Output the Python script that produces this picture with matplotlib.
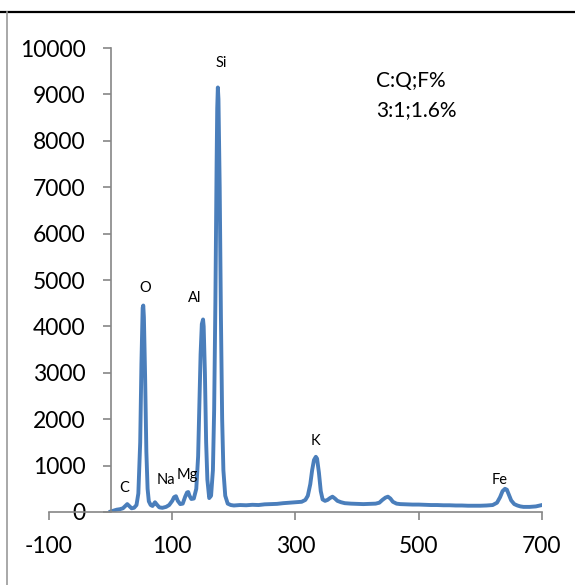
import matplotlib.pyplot as plt
from matplotlib.lines import Line2D

# spettro EDS
energy = [0, 5, 10, 15, 20, 24, 27, 30, 34, 38, 42, 45, 48, 50, 52, 53, 54, 56, 58, 60,
          62, 65, 68, 72, 75, 79, 84, 90, 95, 100, 103, 106, 109, 113, 117, 121, 124, 126, 128, 131,
          135, 139, 142, 144, 146, 148, 150, 151, 153, 155, 157, 160, 163, 166, 168, 170, 172, 173, 174, 175,
          177, 179, 181, 183, 186, 190, 195, 200, 210, 220, 230, 240, 250, 260, 270, 280, 290, 300, 310, 316,
          320, 324, 327, 330, 333, 335, 338, 341, 344, 348, 352, 356, 360, 364, 368, 374, 380, 390, 400, 410,
          420, 430, 436, 441, 446, 450, 454, 458, 464, 470, 480, 490, 500, 510, 520, 530, 540, 550, 560, 570,
          580, 590, 600, 610, 620, 627, 632, 636, 640, 643, 646, 650, 655, 660, 665, 670, 680, 690, 700]
counts = [10, 30, 50, 60, 80, 130, 170, 130, 80, 90, 150, 400, 1500, 3200, 4400, 4450, 4200, 2900, 1300, 500,
          230, 150, 130, 210, 160, 100, 90, 110, 150, 240, 320, 340, 240, 170, 180, 330, 420, 430, 350, 280,
          290, 500, 1200, 2300, 3400, 4050, 4150, 4000, 3000, 1500, 700, 300, 350, 900, 2200, 4500, 7500, 8700, 9150, 8900,
          7000, 4200, 2000, 900, 350, 180, 150, 140, 150, 145, 155, 150, 165, 170, 175, 190, 200, 210, 220, 260,
          350, 600, 900, 1120, 1190, 1150, 850, 450, 270, 240, 260, 300, 330, 290, 240, 210, 190, 180, 175, 170,
          175, 180, 200, 260, 310, 330, 290, 220, 180, 170, 165, 160, 160, 155, 150, 150, 145, 145, 140, 140,
          135, 135, 135, 140, 150, 200, 320, 450, 500, 480, 380, 250, 170, 140, 120, 110, 110, 120, 150]

peak_names = ["C", "O", "Na", "Mg", "Al", "Si", "K", "Fe"]
peak_x = [22, 56, 90, 124, 137, 179, 333, 632]
peak_y = [520, 4830, 690, 800, 4610, 9680, 1530, 690]

x_ticks = [-100, 100, 300, 500, 700]
y_ticks = list(range(0, 10001, 1000))

plt.rcParams["font.family"] = ["Lato", "DejaVu Sans"]
plt.rcParams["axes.unicode_minus"] = False

fig = plt.figure(figsize=(5.75, 5.85), dpi=100)
ax = fig.add_axes([0.0852, 0.1248, 0.8574, 0.7931])

ax.plot(energy, counts, color="#4A7EBB", lw=2.8, solid_joinstyle="round")

for name, px, py in zip(peak_names, peak_x, peak_y):
    ax.text(px, py, name, fontsize=10.5, ha="center", va="center")

ax.text(431, 9500, "C:Q;F%\n3:1;1.6%", fontsize=15, ha="left", va="top", linespacing=1.55)

ax.set_xlim(-100, 700)
ax.set_ylim(0, 10000)
ax.set_xticks(x_ticks)
ax.set_yticks(y_ticks)

ax.spines["top"].set_visible(False)
ax.spines["right"].set_visible(False)
ax.spines["left"].set_position(("data", 0))
for s in ["left", "bottom"]:
    ax.spines[s].set_color("#868686")
    ax.spines[s].set_linewidth(1.2)
ax.tick_params(axis="both", direction="out", length=6, width=1.2, color="#868686", labelsize=16.5)
ax.tick_params(axis="y", pad=12)
ax.tick_params(axis="x", pad=11)

# cornice del documento
fig.add_artist(Line2D([0, 1], [1 - 12 / 585, 1 - 12 / 585], color="black", lw=1.6))
fig.add_artist(Line2D([7 / 575, 7 / 575], [0, 1 - 12 / 585], color="#9a9a9a", lw=1.2))

fig.savefig("out.png", dpi=100)
